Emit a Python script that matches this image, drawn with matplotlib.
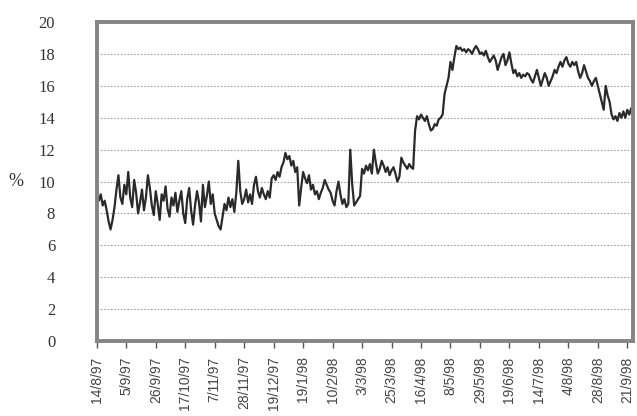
import matplotlib.pyplot as plt

# daily rate, % (15 trading days between date labels)
rate = [
    9.0, 8.8, 9.2, 8.5, 8.8, 8.2, 7.5, 7.0, 7.6, 8.4, 9.5, 10.4, 9.0, 8.6, 9.8,
    9.2, 10.6, 9.0, 8.4, 10.1, 9.3, 8.0, 8.7, 9.5, 8.2, 9.0, 10.4, 9.6, 8.5, 7.9,
    9.4, 8.6, 7.6, 9.2, 8.8, 9.7, 8.3, 7.8, 9.0, 8.5, 9.3, 8.1, 8.8, 9.4, 8.0,
    7.4, 8.9, 9.6, 8.2, 7.3, 8.5, 9.4, 8.7, 7.5, 9.8, 8.4, 9.1, 10.0, 8.6, 9.2,
    8.0, 7.6, 7.2, 7.0, 7.8, 8.6, 8.2, 9.0, 8.4, 8.9, 8.1, 9.3, 11.3, 9.4, 8.6,
    8.9, 9.5, 8.7, 9.2, 8.6, 9.8, 10.3, 9.4, 9.0, 9.6, 9.2, 8.9, 9.4, 9.0, 10.2,
    10.4, 10.1, 10.6, 10.3, 10.9, 11.2, 11.8, 11.4, 11.6, 11.0, 11.3, 10.6, 10.9, 8.5, 9.6,
    10.6, 10.2, 9.9, 10.4, 9.5, 9.8, 9.2, 9.4, 8.9, 9.3, 9.6, 10.1, 9.8, 9.5, 9.3,
    8.8, 8.5, 9.4, 10.0, 9.2, 8.6, 8.9, 8.4, 8.6, 12.0, 9.8, 8.5, 8.7, 8.9, 9.1,
    10.8, 10.5, 11.0, 10.7, 11.1, 10.5, 12.0, 11.2, 10.5, 10.8, 11.3, 11.0, 10.6, 10.9, 10.4,
    10.7, 10.9, 10.5, 10.0, 10.3, 11.5, 11.2, 11.0, 10.8, 11.1, 10.9, 10.8, 13.2, 14.1, 13.9,
    14.2, 14.0, 13.8, 14.1, 13.6, 13.2, 13.3, 13.6, 13.5, 13.9, 14.0, 14.2, 15.5, 16.0, 16.5,
    17.5, 17.0, 17.8, 18.5, 18.3, 18.4, 18.2, 18.3, 18.1, 18.3, 18.2, 18.0, 18.3, 18.5, 18.3,
    18.0, 18.1, 17.9, 18.2, 17.8, 17.5, 17.7, 17.9, 17.6, 17.0, 17.4, 17.8, 18.0, 17.3, 17.6,
    18.1, 17.4, 16.8, 17.0, 16.6, 16.8, 16.5, 16.7, 16.6, 16.8, 16.7, 16.4, 16.2, 16.6, 17.0,
    16.5, 16.0, 16.4, 16.8, 16.5, 16.0, 16.3, 16.6, 17.0, 16.8, 17.2, 17.5, 17.2, 17.6, 17.8,
    17.4, 17.2, 17.5, 17.3, 17.5, 16.9, 16.5, 16.8, 17.3, 16.9, 16.5, 16.3, 16.0, 16.3, 16.5,
    16.0, 15.5, 15.0, 14.5, 16.0, 15.4, 15.0, 14.2, 13.9, 14.1, 13.8, 14.3, 14.0, 14.4, 14.0,
    14.5, 14.2, 14.6, 14.0,
]

date_labels = ["14/8/97", "5/9/97", "26/9/97", "17/10/97", "7/11/97", "28/11/97",
               "19/12/97", "19/1/98", "10/2/98", "3/3/98", "25/3/98", "16/4/98",
               "8/5/98", "29/5/98", "19/6/98", "14/7/98", "4/8/98", "28/8/98", "21/9/98"]
label_step = 15

fig = plt.figure(figsize=(6.37, 4.16), dpi=100)
ax = fig.add_axes([0.152, 0.18, 0.842, 0.767])

ax.plot(range(len(rate)), rate, color="#2a2a2a", lw=1.6)

ax.set_xlim(0, len(rate) - 1)
ax.set_ylim(0, 20)
ax.set_yticks(range(0, 21, 2))
for y in range(2, 20, 2):
    ax.axhline(y, color="#a0a0a0", lw=0.8, ls=(0, (1.5, 1.5)), zorder=0)

ax.set_xticks([i * label_step for i in range(len(date_labels))])
ax.set_xticklabels(date_labels, rotation=90, fontsize=10,
                   family=["Liberation Sans Narrow", "Liberation Sans", "DejaVu Sans"],
                   color="#444444")
ax.tick_params(axis="x", length=5, width=1, color="#555555", pad=6, direction="out")
ax.tick_params(axis="y", length=0, pad=30, labelsize=12, labelcolor="#333333")
for lab in ax.get_yticklabels():
    lab.set_family(["Liberation Serif", "DejaVu Serif"])

ax.set_ylabel("%", rotation=0, fontsize=13, family=["Liberation Serif", "DejaVu Serif"],
              color="#333333", labelpad=16, va="center")

for s in ax.spines.values():
    s.set_linewidth(2.8)
    s.set_color("#858585")

fig.savefig("out.png", dpi=100)
